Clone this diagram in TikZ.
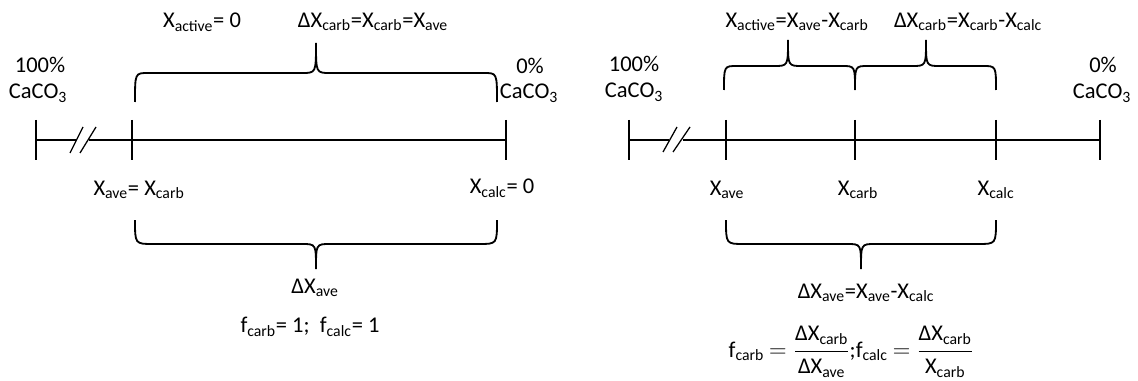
\documentclass[tikz,border=0pt]{standalone}
\usepackage{fontspec}
\usepackage{amsmath}
\setmainfont{Carlito}
\newcommand{\cbr}[7]{% x1, x2, tip x, end y, flat y, tip y, corner
  \draw[curly] (#1,#4) .. controls (#1,#5) .. ({#1+#7},#5) -- ({#3-14},#5)
    .. controls (#3,#5) .. (#3,#6) .. controls (#3,#5) .. ({#3+14},#5)
    -- ({#2-#7},#5) .. controls (#2,#5) .. (#2,#4);}
\begin{document}
\begin{tikzpicture}[
  x = 0.025cm, y = -0.025cm,
  every node/.style = {font=\fontsize{16}{19}\selectfont, inner sep=0pt},
  axis/.style = {line width=1pt},
  endtick/.style = {line width=1.6pt},
  tick/.style = {line width=0.9pt},
  curly/.style = {line width=1.3pt},
]
\useasboundingbox (0,0) rectangle (1138,381);
\def\ay{140}

% ---- esquerda: X_carb = X_ave ----
\coordinate (L0) at (36,\ay);
\coordinate (Lave) at (132,\ay);
\coordinate (Lcalc) at (506,\ay);
\coordinate (Lcut1) at (76,\ay);
\coordinate (Lcut2) at (89,\ay);

\draw[axis] (L0) -- (Lcut1) (Lcut2) -- (Lcalc);
\draw[endtick] (L0) ++(0,-20) -- ++(0,40);
\draw[tick] (Lave) ++(0,-20) -- ++(0,40);
\draw[tick] (Lcalc) ++(0,-20) -- ++(0,40);
\draw[tick] (70,153) -- (83,127) (80,153) -- (96,127);

\cbr{135}{497}{316}{102}{73}{43}{13}
\cbr{135}{497}{316}{220}{244}{269}{18}

\node (l100) at (40,65) {100\%};
\node (lcaco) at (38,93) {CaCO\textsubscript{3}};
\node (l0pc) at (530,66) {0\%};
\node (rcaco) at (529,93) {CaCO\textsubscript{3}};
\node (lact) at (202,22) {X\textsubscript{active}= 0};
\node (ldcarb) at (373,22) {ΔX\textsubscript{carb}=X\textsubscript{carb}=X\textsubscript{ave}};
\node (lxave) at (139,190) {X\textsubscript{ave}= X\textsubscript{carb}};
\node (lxcalc) at (502,188) {X\textsubscript{calc}= 0};
\node (ldave) at (315,288) {ΔX\textsubscript{ave}};
\node (lf) at (310,327) {f\textsubscript{carb}= 1;\ \ f\textsubscript{calc}= 1};

% ---- direita: caso geral ----
\coordinate (R0) at (629,\ay);
\coordinate (Rave) at (726,\ay);
\coordinate (Rcarb) at (855,\ay);
\coordinate (Rcalc) at (996,\ay);
\coordinate (R1) at (1100,\ay);
\coordinate (Rcut1) at (669,\ay);
\coordinate (Rcut2) at (683,\ay);

\draw[axis] (R0) -- (Rcut1) (Rcut2) -- (R1);
\draw[endtick] (R0) ++(0,-20) -- ++(0,40);
\foreach \p in {Rave,Rcarb,Rcalc,R1}
  \draw[tick] (\p) ++(0,-20) -- ++(0,40);
\draw[tick] (663,152) -- (677,127) (673,152) -- (690,127);

\cbr{724}{855}{788}{90}{66}{40}{13}
\cbr{855}{996}{926}{90}{66}{40}{13}
\cbr{726}{996}{861}{220}{244}{269}{18}

\node (r100) at (634,64) {100\%};
\node (rcacol) at (634,92) {CaCO\textsubscript{3}};
\node (r0pc) at (1103,65) {0\%};
\node (rcacor) at (1102,93) {CaCO\textsubscript{3}};
\node (ract) at (797,22) {X\textsubscript{active}=X\textsubscript{ave}-X\textsubscript{carb}};
\node (rdcarb) at (968,22) {ΔX\textsubscript{carb}=X\textsubscript{carb}-X\textsubscript{calc}};
\node (rxave) at (727,190) {X\textsubscript{ave}};
\node (rxcarb) at (858,190) {X\textsubscript{carb}};
\node (rxcalc) at (996,190) {X\textsubscript{calc}};
\node (rdave) at (866,293) {ΔX\textsubscript{ave}=X\textsubscript{ave}-X\textsubscript{calc}};
\node (rf) at (851,352)
  {f\textsubscript{carb} $=\dfrac{\text{ΔX\textsubscript{carb}}}{\text{ΔX\textsubscript{ave}}}$;f\textsubscript{calc} $=\dfrac{\text{ΔX\textsubscript{carb}}}{\text{X\textsubscript{carb}}}$};
\end{tikzpicture}
\end{document}
